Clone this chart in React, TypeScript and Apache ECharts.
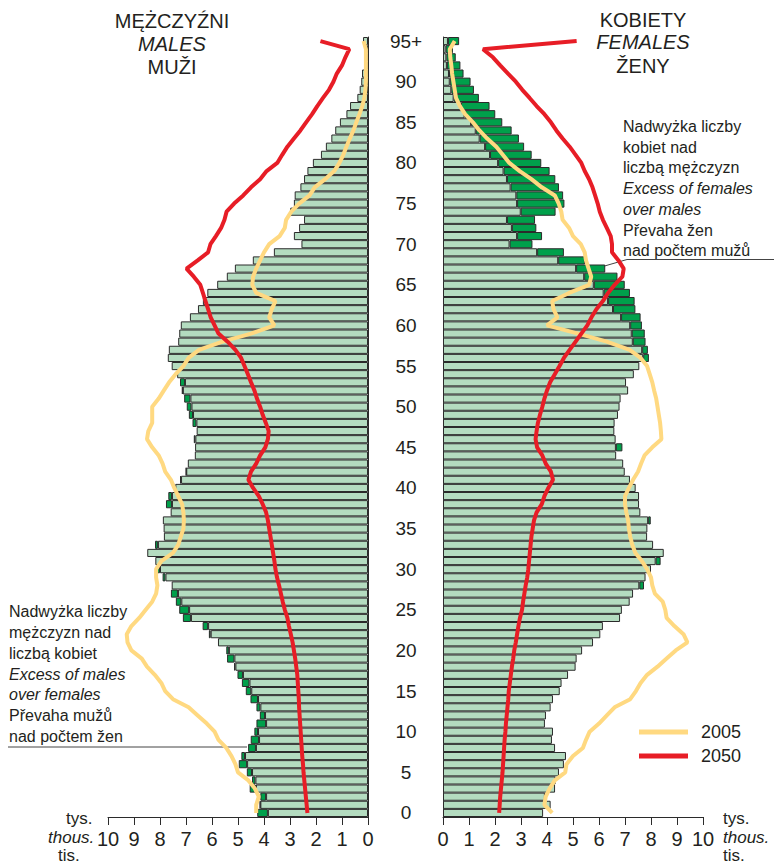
import React, { useEffect, useRef } from 'react';
import * as echarts from 'echarts';

// Age categories 0..94 and 95+
const AGES: string[] = Array.from({ length: 96 }, (_, i) => (i === 95 ? '95+' : String(i)));

// Population (thousands) by single year of age, 0..95+
const MALES = [
  4.26, 4.16, 4.14, 4.55, 4.46, 4.66, 4.97, 4.87, 4.61, 4.51,
  4.37, 4.29, 4.16, 4.29, 4.52, 4.70, 4.85, 5.02, 5.15, 5.42,
  5.45, 5.77, 6.12, 6.36, 7.12, 7.26, 7.39, 7.58, 7.55, 7.90,
  8.12, 8.18, 8.49, 8.19, 7.85, 7.86, 7.89, 7.59, 7.77, 7.68,
  7.46, 7.23, 7.00, 6.93, 6.66, 6.65, 6.70, 6.59, 6.75, 6.89,
  6.97, 7.07, 7.16, 7.23, 7.34, 7.55, 7.70, 7.66, 7.30, 7.26,
  7.20, 6.85, 6.54, 6.35, 6.18, 5.80, 5.43, 5.12, 4.43, 3.62,
  2.56, 2.85, 2.65, 2.46, 2.99, 2.85, 2.82, 2.60, 2.46, 2.33,
  2.12, 1.81, 1.62, 1.41, 1.26, 1.08, 0.83, 0.69, 0.41, 0.32,
  0.26, 0.23, 0.15, 0.13, 0.10, 0.19,
];

const FEMALES = [
  3.85, 4.14, 3.92, 4.31, 4.33, 4.46, 4.65, 4.73, 4.31, 4.19,
  4.23, 3.92, 3.96, 4.14, 4.23, 4.49, 4.56, 4.81, 5.10, 5.14,
  5.35, 5.77, 6.05, 6.15, 6.81, 6.88, 7.18, 7.31, 7.73, 7.79,
  8.00, 8.37, 8.49, 8.08, 7.85, 7.86, 7.99, 7.59, 7.54, 7.54,
  7.41, 7.19, 6.99, 6.93, 6.66, 6.90, 6.64, 6.59, 6.60, 6.73,
  6.79, 6.83, 7.12, 7.04, 7.34, 7.55, 7.92, 7.88, 7.79, 7.76,
  7.65, 7.60, 7.40, 7.37, 7.19, 6.99, 6.71, 6.24, 5.46, 4.65,
  3.44, 3.81, 3.59, 3.54, 4.33, 4.67, 4.62, 4.46, 4.32, 4.10,
  3.78, 3.41, 3.12, 2.92, 2.64, 2.28, 2.01, 1.79, 1.38, 1.19,
  1.06, 0.79, 0.67, 0.49, 0.38, 0.62,
];

const MALES_2005 = [
  4.30, 4.30, 4.20, 4.35, 4.60, 5.00, 5.10, 5.25, 5.45, 5.75,
  5.90, 6.20, 6.55, 6.90, 7.50, 7.80, 7.95, 8.20, 8.50, 8.70,
  9.10, 9.25, 9.28, 9.10, 8.80, 8.55, 8.30, 8.15, 8.10, 8.15,
  8.15, 7.95, 7.50, 7.30, 7.20, 7.10, 7.08, 7.10, 7.15, 7.30,
  7.45, 7.58, 7.80, 7.90, 8.05, 8.30, 8.50, 8.45, 8.30, 8.30,
  8.30, 8.05, 7.85, 7.65, 7.40, 7.10, 6.90, 6.50, 5.60, 4.50,
  3.60, 3.80, 3.70, 3.56, 4.30, 4.45, 4.42, 4.30, 4.15, 4.00,
  3.80, 3.40, 3.20, 3.15, 2.95, 2.65, 2.25, 2.05, 1.65, 1.30,
  1.10, 0.95, 0.83, 0.70, 0.56, 0.45, 0.33, 0.22, 0.14, 0.10,
  0.08, 0.08, 0.08, 0.08, 0.08, 0.17,
];

const MALES_2050 = [
  2.33, 2.36, 2.39, 2.42, 2.45, 2.48, 2.50, 2.53, 2.55, 2.57,
  2.59, 2.61, 2.63, 2.65, 2.66, 2.68, 2.70, 2.72, 2.76, 2.80,
  2.85, 2.90, 2.97, 3.04, 3.10, 3.20, 3.28, 3.35, 3.42, 3.50,
  3.56, 3.60, 3.65, 3.70, 3.75, 3.80, 3.85, 3.92, 4.05, 4.20,
  4.42, 4.60, 4.50, 4.30, 4.15, 3.95, 3.85, 3.82, 3.93, 4.05,
  4.15, 4.27, 4.37, 4.50, 4.62, 4.75, 4.88, 5.10, 5.40, 5.75,
  5.90, 6.05, 6.15, 6.25, 6.35, 6.45, 6.70, 6.98, 6.55, 6.15,
  6.06, 5.85, 5.65, 5.52, 5.44, 5.15, 4.80, 4.50, 4.15, 3.90,
  3.49, 3.30, 3.10, 2.85, 2.60, 2.38, 2.15, 1.95, 1.73, 1.50,
  1.33, 1.20, 1.00, 0.87, 0.72, 1.83,
];

const FEMALES_2005 = [
  4.20, 3.90, 3.95, 4.10, 4.30, 4.70, 4.75, 5.00, 5.38, 5.50,
  5.64, 6.00, 6.30, 6.60, 7.20, 7.42, 7.60, 7.85, 8.25, 8.60,
  8.95, 9.40, 9.25, 8.90, 8.60, 8.55, 8.45, 8.15, 8.05, 8.00,
  7.85, 7.65, 7.40, 7.28, 7.20, 7.15, 7.12, 7.05, 7.00, 7.00,
  7.15, 7.31, 7.50, 7.62, 7.75, 8.05, 8.40, 8.38, 8.35, 8.30,
  8.25, 8.20, 8.12, 8.05, 7.95, 7.85, 7.60, 7.18, 6.30, 5.20,
  4.00, 4.40, 4.25, 4.20, 4.85, 5.62, 5.70, 5.60, 5.50, 5.45,
  5.30, 5.00, 4.85, 4.60, 4.55, 4.45, 4.30, 3.80, 3.40, 2.95,
  2.55, 2.30, 2.05, 1.70, 1.40, 1.15, 0.85, 0.65, 0.50, 0.45,
  0.40, 0.35, 0.32, 0.28, 0.26, 0.45,
];

const FEMALES_2050 = [
  2.16, 2.18, 2.20, 2.23, 2.26, 2.29, 2.31, 2.33, 2.35, 2.37,
  2.40, 2.42, 2.45, 2.48, 2.51, 2.53, 2.57, 2.61, 2.65, 2.70,
  2.74, 2.80, 2.85, 2.90, 2.96, 3.04, 3.08, 3.13, 3.18, 3.24,
  3.28, 3.31, 3.34, 3.37, 3.40, 3.45, 3.50, 3.60, 3.80, 3.90,
  4.05, 4.23, 4.15, 3.95, 3.82, 3.62, 3.56, 3.60, 3.65, 3.73,
  3.82, 3.90, 4.00, 4.12, 4.30, 4.48, 4.65, 4.87, 5.10, 5.32,
  5.55, 5.71, 5.90, 6.15, 6.35, 6.60, 6.90, 6.95, 6.75, 6.50,
  6.50, 6.45, 6.30, 6.15, 6.03, 5.95, 5.85, 5.75, 5.62, 5.45,
  5.32, 5.10, 4.87, 4.60, 4.36, 4.15, 3.90, 3.60, 3.33, 3.05,
  2.80, 2.50, 2.20, 1.92, 1.54, 5.14,
];

const X_TICKS_MIN = 0;
const X_TICKS_MAX = 10;
const LEGEND_YEARS = ['2005', '2050'];

const FONT = '"Liberation Sans", Arial, Helvetica, sans-serif';
const TEXT = '#231f20';
const LIGHT = '#b4dcc0';
const DARK = '#00a04b';
const BORDER = '#2b2b2b';
const YELLOW = '#ffd981';
const RED = '#e71d26';

export default function App() {
  const ref = useRef<HTMLDivElement>(null);

  useEffect(() => {
    if (!ref.current) return;
    const chart = echarts.init(ref.current, undefined, { renderer: 'svg' });

    const common = MALES.map((m, i) => Math.min(m, FEMALES[i]));
    const maleExcess = MALES.map((m, i) => (m - FEMALES[i] > 0.001 ? +(m - FEMALES[i]).toFixed(3) : null));
    const femaleExcess = FEMALES.map((f, i) => (f - MALES[i] > 0.001 ? +(f - MALES[i]).toFixed(3) : null));

    const barBase = {
      type: 'bar',
      barCategoryGap: '0%',
      barGap: '0%',
      silent: true,
      z: 2,
    };
    const lineBase = {
      type: 'line',
      symbol: 'none',
      smooth: false,
      silent: true,
    };

    const xAxisBase = {
      type: 'value',
      min: X_TICKS_MIN,
      max: X_TICKS_MAX,
      interval: 1,
      splitLine: { show: false },
      axisLine: { show: true, onZero: false, lineStyle: { color: BORDER, width: 1 } },
      axisTick: { show: true, length: 8, lineStyle: { color: BORDER, width: 1 } },
      axisLabel: { fontSize: 20, fontFamily: FONT, color: TEXT, margin: 12, showMinLabel: true, showMaxLabel: true },
    };

    const txt = (text: string, x: number, y: number, opts: any = {}) => ({
      type: 'text',
      x,
      y,
      silent: true,
      style: {
        text,
        fontSize: opts.fontSize || 16,
        fontFamily: FONT,
        fontStyle: opts.italic ? 'italic' : 'normal',
        fill: TEXT,
        textAlign: opts.align || 'left',
        textVerticalAlign: 'middle',
        align: opts.align || 'left',
        verticalAlign: 'middle',
      },
    });

    const leftNote = [
      ['Nadwyżka liczby', false],
      ['mężczyzn nad', false],
      ['liczbą kobiet', false],
      ['Excess of males', true],
      ['over females', true],
      ['Převaha mužů', false],
      ['nad počtem žen', false],
    ] as [string, boolean][];
    const rightNote = [
      ['Nadwyżka liczby', false],
      ['kobiet nad', false],
      ['liczbą mężczyzn', false],
      ['Excess of females', true],
      ['over males', true],
      ['Převaha žen', false],
      ['nad počtem mužů', false],
    ] as [string, boolean][];

    const graphics: any[] = [
      txt('MĘŻCZYŹNI', 172, 21, { fontSize: 20, align: 'center' }),
      txt('MALES', 172, 44, { fontSize: 20, align: 'center', italic: true }),
      txt('MUŽI', 172, 67, { fontSize: 20, align: 'center' }),
      txt('KOBIETY', 643, 20, { fontSize: 20, align: 'center' }),
      txt('FEMALES', 643, 42, { fontSize: 20, align: 'center', italic: true }),
      txt('ŽENY', 643, 66, { fontSize: 20, align: 'center' }),
      ...leftNote.map(([t, it], i) => txt(t, 9, 611.5 + i * 20.85, { fontSize: 16, italic: it })),
      ...rightNote.map(([t, it], i) => txt(t, 623, 126.5 + i * 20.7, { fontSize: 16, italic: it })),
      {
        type: 'line',
        silent: true,
        shape: { x1: 8, y1: 747, x2: 247, y2: 747 },
        style: { stroke: '#444', lineWidth: 1 },
      },
      {
        type: 'polyline',
        silent: true,
        shape: { points: [[589, 270.5], [627, 259.5], [774, 259.5]] },
        style: { stroke: '#444', lineWidth: 1, fill: 'none' },
      },
      txt('tys.', 66, 818, { fontSize: 17 }),
      txt('thous.', 48, 837, { fontSize: 17, italic: true }),
      txt('tis.', 58, 855, { fontSize: 17 }),
      txt('tys.', 723, 818, { fontSize: 17 }),
      txt('thous.', 723, 837, { fontSize: 17, italic: true }),
      txt('tis.', 723, 855, { fontSize: 17 }),
    ];

    chart.setOption({
      animation: false,
      backgroundColor: '#ffffff',
      textStyle: { fontFamily: FONT },
      grid: [
        { left: 108, top: 37, width: 260, height: 780 },
        { left: 443, top: 37, width: 260, height: 780 },
      ],
      xAxis: [
        { ...xAxisBase, gridIndex: 0, inverse: true },
        { ...xAxisBase, gridIndex: 1 },
      ],
      yAxis: [
        {
          type: 'category',
          gridIndex: 0,
          data: AGES,
          position: 'right',
          axisLine: { show: true, onZero: false, lineStyle: { color: BORDER, width: 1 } },
          axisTick: { show: false },
          axisLabel: { interval: 4, align: 'center', margin: 38, fontSize: 19, fontFamily: FONT, color: TEXT },
          splitLine: { show: false },
        },
        {
          type: 'category',
          gridIndex: 1,
          data: AGES,
          position: 'left',
          axisLine: { show: true, onZero: false, lineStyle: { color: BORDER, width: 1 } },
          axisTick: { show: false },
          axisLabel: { show: false },
          splitLine: { show: false },
        },
      ],
      legend: {
        data: LEGEND_YEARS,
        orient: 'vertical',
        left: 634,
        top: 717,
        itemWidth: 49,
        itemHeight: 5,
        itemGap: 4,
        icon: 'rect',
        selectedMode: false,
        textStyle: { fontSize: 18, fontFamily: FONT, color: TEXT, lineHeight: 20, padding: [0, 0, 0, 8] },
      },
      series: [
        { ...barBase, name: 'M', xAxisIndex: 0, yAxisIndex: 0, stack: 'm', data: common,
          itemStyle: { color: LIGHT, borderColor: BORDER, borderWidth: 1 } },
        { ...barBase, name: 'Mx', xAxisIndex: 0, yAxisIndex: 0, stack: 'm', data: maleExcess,
          itemStyle: { color: DARK, borderColor: BORDER, borderWidth: 1 } },
        { ...barBase, name: 'F', xAxisIndex: 1, yAxisIndex: 1, stack: 'f', data: common,
          itemStyle: { color: LIGHT, borderColor: BORDER, borderWidth: 1 } },
        { ...barBase, name: 'Fx', xAxisIndex: 1, yAxisIndex: 1, stack: 'f', data: femaleExcess,
          itemStyle: { color: DARK, borderColor: BORDER, borderWidth: 1 } },
        { ...lineBase, name: LEGEND_YEARS[0], xAxisIndex: 0, yAxisIndex: 0, data: MALES_2005, z: 3,
          color: YELLOW, lineStyle: { color: YELLOW, width: 4 } },
        { ...lineBase, name: LEGEND_YEARS[0], xAxisIndex: 1, yAxisIndex: 1, data: FEMALES_2005, z: 3,
          color: YELLOW, lineStyle: { color: YELLOW, width: 4 } },
        { ...lineBase, name: LEGEND_YEARS[1], xAxisIndex: 0, yAxisIndex: 0, data: MALES_2050, z: 4,
          color: RED, lineStyle: { color: RED, width: 4 } },
        { ...lineBase, name: LEGEND_YEARS[1], xAxisIndex: 1, yAxisIndex: 1, data: FEMALES_2050, z: 4,
          color: RED, lineStyle: { color: RED, width: 4 } },
      ],
      graphic: graphics,
    });

    return () => chart.dispose();
  }, []);

  return (
    <div
      ref={ref}
      style={{ position: 'absolute', left: 0, top: 0, width: 774, height: 865, background: '#fff' }}
    />
  );
}
